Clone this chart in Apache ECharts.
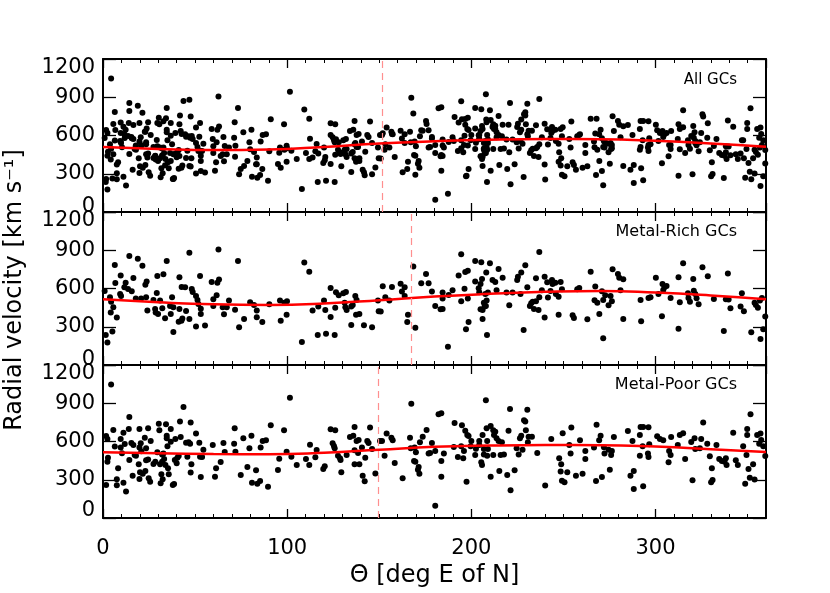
<!DOCTYPE html>
<html>
<head>
<meta charset="utf-8">
<script src="https://cdn.jsdelivr.net/npm/echarts@6/dist/echarts.min.js"></script>
<style>
  html, body { margin: 0; background: #fff; }
  #chart { width: 830px; height: 593px; }
</style>
</head>
<body>
<div id="chart"></div>
<script>
// [theta (deg E of N), radial velocity (km/s)]
const richGCs = [
  [6.4,785],[14.3,855],[18.9,834],[21.4,779],[9.6,701],[6.7,644],[12.3,646],[16.5,683],[23.0,630],[23.7,654],
  [29.5,698],[32.8,711],[34.6,816],[46.9,881],[62.7,905],[73.3,816],[41.5,688],[52.7,698],[59.0,651],[62.1,646],
  [63.0,670],[42.7,612],[44.6,610],[48.2,596],[48.7,573],[50.5,542],[51.3,510],[61.7,547],[59.9,515],[68.4,505],
  [11.6,610],[13.6,596],[15.6,578],[9.3,557],[9.8,542],[3.8,531],[4.4,497],[5.6,453],[4.2,411],[7.5,372],
  [5.1,262],[1.5,236],[2.4,176],[17.8,521],[20.7,521],[23.4,531],[24.1,427],[27.4,510],[29.2,565],[31.0,505],
  [28.3,440],[28.6,411],[29.9,400],[32.2,445],[33.7,366],[36.8,400],[37.5,531],[36.4,463],[38.2,453],[41.5,440],
  [45.1,424],[43.1,364],[41.1,340],[42.6,348],[38.2,259],[46.9,361],[50.5,301],[51.8,479],[53.1,442],[53.1,400],
  [55.4,309],[59.9,463],[65.0,453],[65.7,398],[67.2,453],[71.7,434],[73.9,296],[76.6,361],[79.9,492],[82.0,471],
  [83.5,427],[83.5,374],[86.5,338],[90.3,476],[0.9,581],
  [96.1,505],[98.5,489],[99.9,500],[96.5,348],[99.7,395],[109.3,803],[112.0,732],[113.8,427],[108.0,181],[116.6,236],
  [121.1,246],[125.8,236],[116.9,458],[120.0,505],[120.7,432],[123.6,604],[123.6,377],[126.1,450],[126.5,570],[128.0,547],
  [130.5,563],[131.9,573],[131.2,489],[131.6,453],[132.3,432],[134.8,458],[135.6,471],[137.0,542],[137.7,510],[134.8,314],
  [137.4,395],[139.2,400],[141.7,312],[146.1,296],[149.3,505],[149.7,421],[150.8,419],[151.9,617],[153.3,531],[155.5,505],
  [156.9,612],[161.6,638],[162.3,576],[163.8,610],[163.8,542],[165.6,395],[165.2,338],[168.5,772],[169.6,293],[172.8,641],
  [175.4,714],[176.8,641],[178.6,576],[180.4,463],
  [183.3,437],[184.4,440],[184.4,521],[184.4,568],[187.7,550],[189.8,586],[187.3,144],[193.1,701],[194.5,868],[194.5,500],
  [196.3,599],[196.7,730],[198.1,740],[198.1,521],[197.1,280],[198.5,338],[202.1,816],[205.4,806],[202.1,654],[204.0,602],
  [205.0,636],[205.8,675],[204.3,570],[207.6,557],[209.0,568],[206.8,489],[208.3,505],[207.9,463],[205.0,437],[206.1,432],
  [207.2,458],[206.1,361],[208.5,236],[208.1,725],[210.1,798],[211.5,667],[213.0,651],[214.8,753],[213.7,586],[217.0,685],
  [219.1,568],[222.4,568],[220.6,468],[225.3,693],[224.9,667],[227.1,725],[229.3,782],[226.7,557],[230.4,610],[228.4,275],
  [231.8,463],[232.5,484],[233.3,497],[234.0,440],[235.1,500],[236.5,432],[235.1,680],[236.9,887],[236.9,531],[238.3,586],
  [239.8,693],[239.8,372],[241.2,649],[241.6,529],[243.0,581],[243.8,667],[244.1,636],[245.6,646],[245.9,557],[247.4,536],
  [248.5,651],[247.4,395],[249.2,594],[255.0,390],[255.7,369],[257.5,594],[258.6,604],[263.0,359],[264.8,732],[267.3,615],
  [266.9,508],[268.4,489],[269.5,400],[271.6,210],[270.9,578],
  [276.7,751],[279.6,714],[280.3,685],[282.5,672],[281.0,586],[271.6,510],[272.7,547],[274.5,468],[275.6,542],[276.3,500],
  [282.5,361],[291.9,510],[292.2,343],[296.2,526],[297.3,531],[300.2,685],[301.6,557],[303.5,382],[303.8,636],[304.2,589],
  [304.9,610],[306.0,620],[308.2,526],[312.5,688],[315.0,798],[313.2,492],[312.5,285],[317.6,563],[317.9,526],[318.7,497],
  [320.5,675],[320.8,583],[321.6,557],[322.3,523],[323.4,476],[325.5,766],[328.4,696],[331.7,518],[337.1,267],[338.2,515],
  [339.3,717],[339.7,513],[340.7,445],[346.2,458],[346.9,563],[348.0,421],[352.0,257],[353.8,489],[354.5,471],[355.6,450],
  [356.7,505],[357.8,526],[357.0,204],[358.5,280],[359.6,380]
];

const poorGCs = [
  [4.4,1048],[1.7,643],[2.4,620],[2.7,473],[2.4,442],[1.7,259],[5.6,690],[6.4,560],[7.5,303],[7.5,256],
  [8.2,390],[9.6,620],[9.6,552],[10.3,507],[11.1,669],[11.8,580],[11.1,277],[12.5,207],[14.0,698],[14.3,792],
  [14.3,455],[15.4,588],[16.5,573],[16.1,332],[17.2,494],[17.9,489],[19.8,698],[19.8,552],[19.4,421],[20.1,358],
  [20.5,586],[20.8,523],[19.8,306],[21.6,348],[22.7,630],[23.4,452],[23.4,547],[23.0,369],[24.5,703],[24.5,458],
  [24.8,311],[25.6,285],[25.9,604],[27.4,424],[28.4,442],[29.5,515],[30.3,740],[30.6,688],[31.0,421],[32.1,499],
  [31.7,343],[32.1,442],[31.3,272],[32.4,303],[32.8,505],[33.2,463],[33.9,416],[34.2,735],[34.6,625],[34.6,646],
  [35.0,562],[35.3,390],[35.7,343],[36.8,698],[36.8,599],[37.9,259],[38.6,267],[39.3,620],[39.0,455],[40.0,429],
  [40.4,473],[41.1,486],[41.8,756],[42.2,635],[43.7,871],[45.1,591],[45.8,481],[46.5,594],[47.6,750],[47.3,583],
  [48.0,421],[47.6,356],[50.5,662],[52.3,591],[52.7,481],[53.8,479],[53.1,322],[54.5,536],[59.6,573],[60.8,324],
  [61.4,390],[63.9,439],[65.4,588],[66.1,518],[71.2,583],[71.5,703],[71.9,520],[74.8,337],[76.2,625],[78.4,400],
  [79.5,547],[80.6,646],[80.9,277],[83.1,374],[83.8,269],[85.3,290],[85.6,552],[86.7,604],[88.5,609],[89.6,246],
  [91.1,727],
  [95.0,377],[95.7,465],[98.3,688],[99.7,520],[101.5,944],[102.3,481],[105.2,416],[110.2,463],[112.0,416],[112.4,575],
  [115.3,476],[116.0,533],[119.6,384],[120.4,405],[123.6,696],[126.1,688],[124.7,586],[125.4,565],[125.8,547],[127.6,489],
  [128.7,468],[129.0,455],[129.4,358],[132.3,494],[134.1,635],[135.9,646],[136.6,714],[136.6,531],[137.7,604],[138.5,510],
  [138.8,612],[139.2,421],[136.6,421],[141.0,332],[142.1,288],[140.6,552],[142.4,473],[143.5,604],[144.2,588],[145.0,709],
  [146.1,541],[147.9,350],[150.4,604],[151.5,604],[152.9,489],[154.0,662],[156.6,630],[157.3,609],[158.4,431],[162.7,311],
  [166.7,630],[167.4,897],[167.1,547],[169.2,552],[169.9,515],[168.9,447],[169.6,442],[171.0,379],[171.8,348],[171.4,400],
  [172.1,594],[173.6,638],[175.7,690],[176.8,505],[177.6,510],[178.6,588],[180.4,526],[180.4,97],
  [182.2,813],[183.7,821],[183.7,447],[183.7,324],[185.1,505],[190.9,745],[190.5,557],[192.7,479],[194.5,562],[194.9,727],
  [195.6,468],[196.0,526],[196.7,685],[197.8,651],[197.4,285],[198.5,643],[200.0,604],[199.6,562],[202.1,494],[202.5,544],
  [204.3,604],[204.3,573],[205.4,437],[205.8,416],[206.1,651],[206.8,541],[206.8,499],[207.9,923],[208.3,703],[208.6,604],
  [208.6,489],[209.0,541],[210.5,722],[210.5,324],[211.9,494],[211.9,688],[212.3,651],[213.0,677],[213.7,625],[214.8,604],
  [215.2,369],[215.9,494],[216.6,594],[217.7,499],[219.5,337],[220.2,685],[221.0,855],[221.3,217],[223.5,374],[224.6,547],
  [225.7,499],[226.4,625],[227.1,646],[227.8,536],[228.6,766],[229.3,756],[229.6,688],[230.4,850],[230.7,594],[231.1,638],
  [232.9,638],[235.8,510],[240.1,254],[243.4,620],[247.7,468],[248.8,421],[248.5,364],[249.2,293],[249.6,664],[250.6,280],
  [252.1,358],[253.2,573],[253.9,505],[254.3,709],[256.8,332],[259.0,609],[260.4,348],[261.9,526],[261.9,463],[266.6,552],
  [267.7,290],[268.0,732],[270.2,646],[270.9,322],[272.0,554],
  [269.4,609],[272.3,505],[274.5,536],[276.3,526],[275.9,494],[275.2,379],[277.4,635],[285.0,682],[286.4,332],[287.5,604],
  [288.2,369],[288.2,228],[291.5,651],[291.9,714],[293.3,714],[296.2,711],[293.0,562],[291.5,489],[293.3,249],[295.9,505],
  [296.2,479],[296.6,578],[300.9,641],[302.4,620],[304.2,609],[307.1,437],[307.4,526],[308.2,494],[308.5,635],[312.1,573],
  [313.2,651],[315.0,664],[316.1,463],[319.4,596],[320.1,296],[321.2,625],[321.6,541],[324.1,547],[324.8,620],[325.9,750],
  [328.1,583],[329.5,484],[330.6,390],[330.2,280],[331.0,298],[333.1,573],[334.6,463],[336.0,447],[337.5,442],[338.2,468],
  [338.6,416],[342.2,669],[343.6,452],[344.7,416],[347.6,562],[348.7,269],[349.4,494],[349.8,698],[349.8,651],[350.5,384],
  [351.2,316],[351.6,813],[353.0,421],[353.8,301],[355.2,651],[357.0,662],[356.3,583],[357.4,612],[358.5,562],[359.6,486]
];

const allGCs = richGCs.concat(poorGCs);

// fitted curves
const fitTheta = [0, 30, 60, 90, 120, 150, 180, 210, 240, 270, 300, 330, 360];
const allFit  = [510, 495, 486, 490, 510, 537, 555, 567, 572, 570, 558, 538, 512];
const richFit = [515, 492, 476, 471, 482, 508, 537, 558, 574, 581, 568, 545, 515];
const poorFit = [515, 508, 502, 500, 512, 535, 558, 568, 572, 571, 560, 540, 517];

const dashTheta = [151.8, 167.6, 149.4];
const panelNames = ['All GCs', 'Metal-Rich GCs', 'Metal-Poor GCs'];
const panelData = [allGCs, richGCs, poorGCs];
const panelFits = [allFit, richFit, poorFit];

const font = 'DejaVu Sans';
const plotLeft = 103, plotWidth = 663, plotTop = 59, plotHeight = 153;

const chart = echarts.init(document.getElementById('chart'));

const grids = [], xAxes = [], yAxes = [], series = [], graphics = [];

for (let i = 0; i < 3; i++) {
  const top = plotTop + plotHeight * i;
  const last = i === 2;
  const g = grids.length;
  grids.push({ left: plotLeft, width: plotWidth, top: top, height: plotHeight });
  const gm = grids.length;
  grids.push({ left: plotLeft, width: plotWidth, top: top, height: plotHeight });

  // major x ticks (bottom, top)
  const xb = xAxes.length;
  ['bottom', 'top'].forEach(pos => {
    const labelled = last && pos === 'bottom';
    xAxes.push({
      gridIndex: g, type: 'value', position: pos,
      min: 0, max: 360, interval: 100,
      axisLine: { show: true, onZero: false, lineStyle: { color: '#000', width: 2 } },
      axisTick: { show: true, inside: true, length: 9, lineStyle: { color: '#000', width: 1.3 } },
      axisLabel: {
        show: labelled, showMaxLabel: false, color: '#000',
        fontSize: 21, fontFamily: font, margin: 20
      },
      splitLine: { show: false },
      name: labelled ? 'Θ [deg E of N]' : '',
      nameLocation: 'middle', nameGap: 46,
      nameTextStyle: { color: '#000', fontSize: 24, fontFamily: font }
    });
  });
  // minor x ticks on twin grid
  ['bottom', 'top'].forEach(pos => {
    xAxes.push({
      gridIndex: gm, type: 'value', position: pos,
      min: 0, max: 360, interval: 10,
      axisLine: { show: false, onZero: false },
      axisTick: { show: true, inside: true, length: 4, lineStyle: { color: '#000', width: 1 } },
      axisLabel: { show: false },
      splitLine: { show: false }
    });
  });

  const yl = yAxes.length;
  yAxes.push({
    gridIndex: g, type: 'value', position: 'left',
    min: 0, max: 1200, interval: 300,
    axisLine: { show: true, onZero: false, lineStyle: { color: '#000', width: 2 } },
    axisTick: { show: true, inside: true, length: 13, lineStyle: { color: '#000', width: 1.3 } },
    axisLabel: {
      color: '#000', fontSize: 21, fontFamily: font, margin: 8,
      formatter: v => v === 0 ? '{lo|0}' : v === 1200 ? '{hi|1200}' : '{n|' + v + '}',
      rich: {
        n: { fontSize: 21, fontFamily: font, color: '#000' },
        lo: { fontSize: 21, fontFamily: font, color: '#000', padding: [0, 0, last ? 14 : 10, 0] },
        hi: { fontSize: 21, fontFamily: font, color: '#000', padding: [18, 0, 0, 0] }
      }
    },
    splitLine: { show: false }
  });
  yAxes.push({
    gridIndex: g, type: 'value', position: 'right',
    min: 0, max: 1200, interval: 300,
    axisLine: { show: true, onZero: false, lineStyle: { color: '#000', width: 2 } },
    axisTick: { show: true, inside: true, length: 13, lineStyle: { color: '#000', width: 1.3 } },
    axisLabel: { show: false },
    splitLine: { show: false }
  });
  yAxes.push({ gridIndex: gm, type: 'value', min: 0, max: 1200, show: false });

  series.push({
    type: 'scatter', xAxisIndex: xb, yAxisIndex: yl,
    data: panelData[i], symbol: 'circle', symbolSize: 6,
    itemStyle: { color: '#000', opacity: 1 }, z: 2, silent: true
  });
  series.push({
    type: 'line', xAxisIndex: xb, yAxisIndex: yl,
    data: fitTheta.map((t, k) => [t, panelFits[i][k]]),
    smooth: true, showSymbol: false, z: 4, silent: true,
    lineStyle: { color: '#ff0000', width: 2.5 },
    markLine: {
      silent: true, symbol: 'none', animation: false,
      label: { show: false },
      lineStyle: { color: '#ff8f8f', type: [7, 5], width: 1.2 },
      data: [{ xAxis: dashTheta[i] }]
    }
  });

  graphics.push({
    type: 'text', x: 737, y: top + (i === 0 ? 21 : 20),
    style: {
      text: panelNames[i], font: (i === 0 ? 15 : 16) + 'px "' + font + '"', fill: '#000',
      textAlign: 'right', textVerticalAlign: 'middle', align: 'right', verticalAlign: 'middle'
    }
  });
}

graphics.push({
  type: 'text', x: 15, y: 290, rotation: Math.PI / 2,
  style: {
    text: 'Radial velocity [km s⁻¹]', font: '24px "' + font + '"', fill: '#000',
    textAlign: 'center', textVerticalAlign: 'middle', align: 'center', verticalAlign: 'middle'
  }
});

chart.setOption({
  animation: false,
  backgroundColor: '#fff',
  grid: grids,
  xAxis: xAxes,
  yAxis: yAxes,
  series: series,
  graphic: graphics
});
</script>
</body>
</html>
